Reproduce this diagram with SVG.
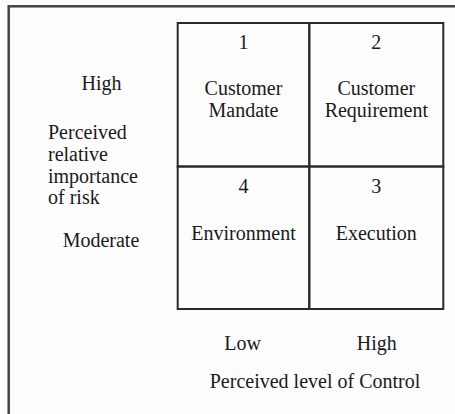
<svg xmlns="http://www.w3.org/2000/svg" width="455" height="414" viewBox="0 0 455 414">
  <style>
    text { font-family: 'Liberation Serif', 'DejaVu Serif', serif; font-size: 20px; fill: #1a1a1a; }
    .c { text-anchor: middle; }
    .cell { fill: none; stroke: #2a2a2a; stroke-width: 2; }
    .frame { fill: none; stroke: #444; stroke-width: 2.5; }
  </style>
  <rect x="0" y="0" width="455" height="414" fill="#fdfdfd"/>
  <rect class="frame" x="8.7" y="6.3" width="460" height="430"/>

  <g id="axis-y" font-family="Liberation Serif, serif">
    <text class="c" x="101.5" y="90">High</text>
    <text x="48" y="139">Perceived</text>
    <text x="48" y="161">relative</text>
    <text x="48" y="182.5">importance</text>
    <text x="48" y="204">of risk</text>
    <text class="c" x="101" y="247">Moderate</text>
  </g>

  <g id="cell-1">
    <rect class="cell" x="177.7" y="23" width="131.6" height="143.5"/>
    <text class="c" x="243.5" y="49">1</text>
    <text class="c" x="243.5" y="94.5">Customer</text>
    <text class="c" x="243.5" y="116.5">Mandate</text>
  </g>

  <g id="cell-2">
    <rect class="cell" x="309.3" y="23" width="134" height="143.5"/>
    <text class="c" x="376.3" y="49">2</text>
    <text class="c" x="376.3" y="94.5">Customer</text>
    <text class="c" x="376.3" y="116.5">Requirement</text>
  </g>

  <g id="cell-4">
    <rect class="cell" x="177.7" y="166.5" width="131.6" height="142.5"/>
    <text class="c" x="243.5" y="193">4</text>
    <text class="c" x="243.5" y="240">Environment</text>
  </g>

  <g id="cell-3">
    <rect class="cell" x="309.3" y="166.5" width="134" height="142.5"/>
    <text class="c" x="376.3" y="193">3</text>
    <text class="c" x="376.3" y="240">Execution</text>
  </g>

  <g id="axis-x">
    <text class="c" x="242.7" y="350">Low</text>
    <text class="c" x="376.7" y="350">High</text>
    <text class="c" x="315" y="388.3">Perceived level of Control</text>
  </g>

  <g id="connectors"></g>
</svg>
